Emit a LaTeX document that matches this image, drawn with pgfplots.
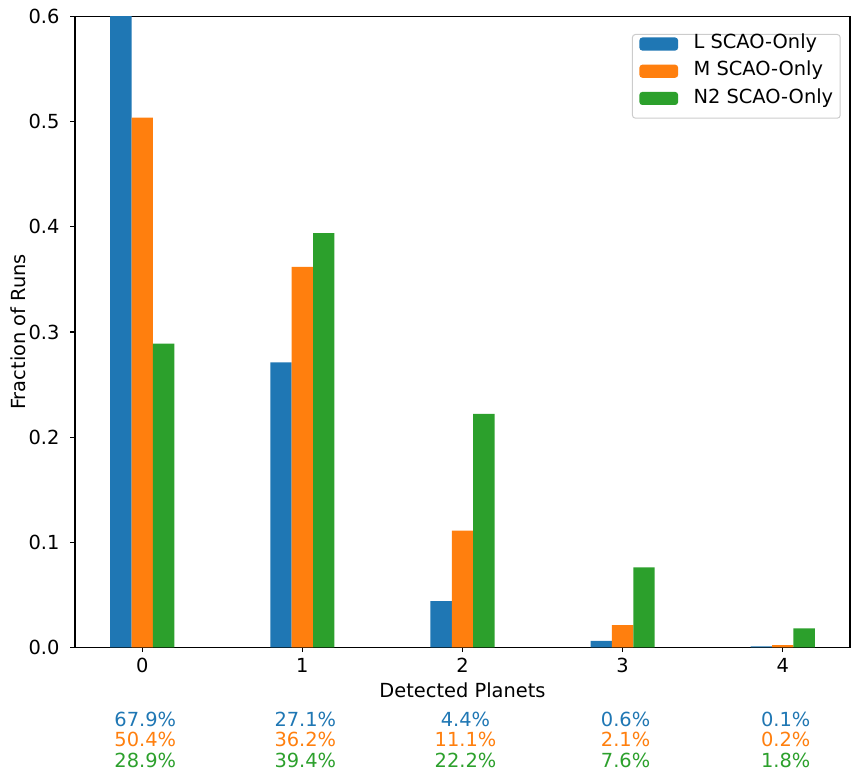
\documentclass[border=0pt]{standalone}
\usepackage{fontspec}
\setmainfont{DejaVu Sans}
\usepackage{pgfplots}
\pgfplotsset{compat=1.18}
\definecolor{c0}{HTML}{1F77B4}
\definecolor{c1}{HTML}{FF7F0E}
\definecolor{c2}{HTML}{2CA02C}
\newcommand\fs{\fontsize{19.4}{23.3}\selectfont}
\begin{document}
\fs
\begin{tikzpicture}[font=\fs]
\begin{axis}[
  scale only axis, width=775pt, height=630.6pt,
  xmin=-0.42, xmax=4.42, ymin=0, ymax=0.6,
  ybar, bar width=0.1333,
  clip mode=individual,
  xtick={0,1,2,3,4},
  ytick={0,0.1,0.2,0.3,0.4,0.5,0.6},
  xtick pos=left, ytick pos=left,
  tick align=outside, major tick length=4.86pt,
  tick style={black, line width=1.1pt},
  axis line style={line width=1.1pt},
  every tick label/.append style={font=\fs},
  /pgf/number format/assume math mode=true,
  y tick label style={/pgf/number format/fixed, /pgf/number format/fixed zerofill, /pgf/number format/precision=1, inner sep=0pt, xshift=-10.5pt},
  x tick label style={inner sep=0pt, yshift=-5.5pt},
  xlabel={Detected Planets},
  ylabel={Fraction of Runs},
  label style={font=\fs},
  xlabel style={at={(axis description cs:0.5,-0.0677)}, anchor=center, inner sep=0pt},
  ylabel style={at={(axis description cs:-0.073,0.5)}, anchor=center, inner sep=0pt},
  legend cell align=left,
  legend style={at={(0.988,0.9726)}, anchor=north east, draw=white!80!black, rounded corners=3pt, line width=1pt,
    font=\fs,
    inner xsep=7pt, inner ysep=3pt, row sep=3.9pt,
    nodes={inner sep=0pt, text height=9pt, text depth=12pt},
    /tikz/every odd column/.append style={column sep=15.5pt}},
  legend image code/.code={\fill[#1] (0pt,-0.3pt) rectangle (38.7pt,12.8pt);},
]
\addplot[fill=c0, draw=none, bar shift=-0.1333] coordinates {(0,0.679) (1,0.271) (2,0.044) (3,0.006) (4,0.001)};
\addlegendentry{L SCAO-Only}
\addplot[fill=c1, draw=none, bar shift=0] coordinates {(0,0.504) (1,0.362) (2,0.111) (3,0.021) (4,0.002)};
\addlegendentry{M SCAO-Only}
\addplot[fill=c2, draw=none, bar shift=0.1333] coordinates {(0,0.289) (1,0.394) (2,0.222) (3,0.076) (4,0.018)};
\addlegendentry{N2 SCAO-Only}
\foreach \i/\a/\b/\c in {0/67.9/50.4/28.9, 1/27.1/36.2/39.4, 2/4.4/11.1/22.2, 3/0.6/2.1/7.6, 4/0.1/0.2/1.8} {
  \edef\temp{\noexpand\node[anchor=base, text=c0, inner sep=0pt, xshift=3pt, yshift=-78.7pt, font=\noexpand\fs] at (axis cs:\i,0) {\a\noexpand\%};
    \noexpand\node[anchor=base, text=c1, inner sep=0pt, xshift=3pt, yshift=-99.3pt, font=\noexpand\fs] at (axis cs:\i,0) {\b\noexpand\%};
    \noexpand\node[anchor=base, text=c2, inner sep=0pt, xshift=3pt, yshift=-120pt, font=\noexpand\fs] at (axis cs:\i,0) {\c\noexpand\%};}
  \temp
}
\end{axis}
\pgfresetboundingbox
\path[use as bounding box] (-75pt,-132.7pt) rectangle (788pt,647.3pt);
\end{tikzpicture}
\end{document}
